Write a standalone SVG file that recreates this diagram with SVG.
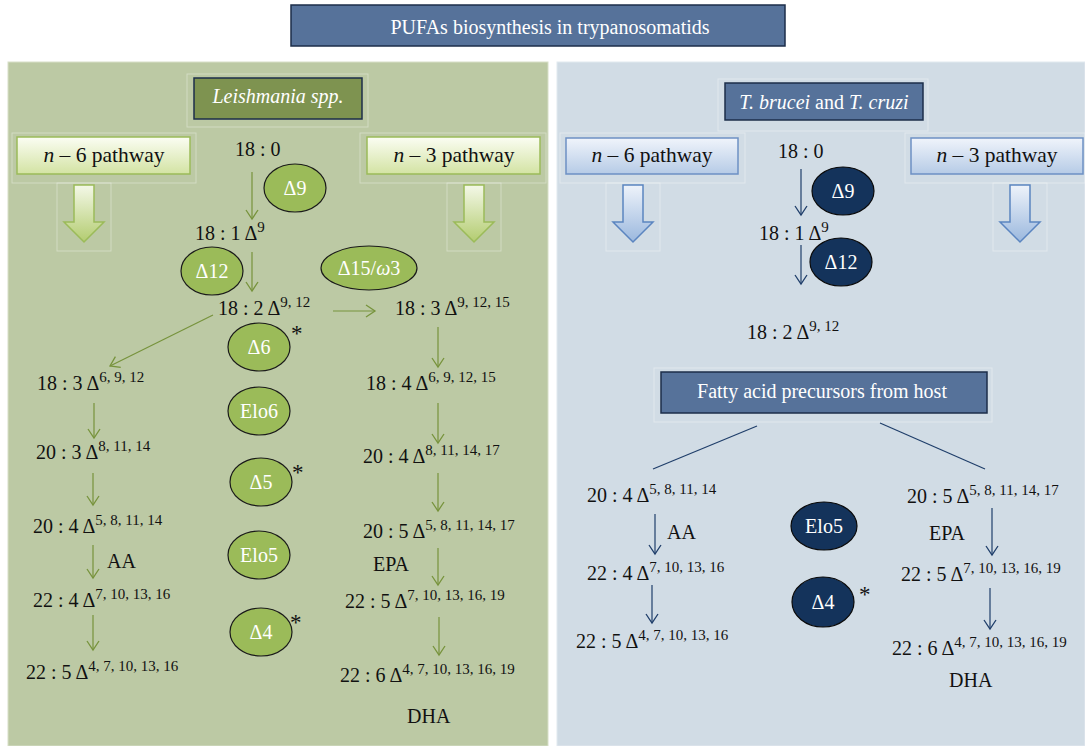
<svg xmlns="http://www.w3.org/2000/svg" width="1085" height="746" viewBox="0 0 1085 746" font-family="'Liberation Serif','Times New Roman',serif">
<defs>
<linearGradient id="gBox" x1="0" y1="0" x2="0" y2="1"><stop offset="0" stop-color="#fbfdf3"/><stop offset="1" stop-color="#d3e3a3"/></linearGradient>
<linearGradient id="gArr" x1="0" y1="0" x2="0" y2="1"><stop offset="0" stop-color="#f4f8e8"/><stop offset="1" stop-color="#b3cc70"/></linearGradient>
<linearGradient id="bBox" x1="0" y1="0" x2="0" y2="1"><stop offset="0" stop-color="#f0f4fb"/><stop offset="1" stop-color="#b6cbe6"/></linearGradient>
<linearGradient id="bArr" x1="0" y1="0" x2="0" y2="1"><stop offset="0" stop-color="#eef3fa"/><stop offset="1" stop-color="#9bb8de"/></linearGradient>
<marker id="mg" viewBox="-10 -7 12 14" markerWidth="12" markerHeight="14" refX="0" refY="0" orient="auto" markerUnits="userSpaceOnUse"><path d="M-9,-6 L0,0 L-9,6" fill="none" stroke="#77933c" stroke-width="1.3"/></marker>
<marker id="mb" viewBox="-10 -7 12 14" markerWidth="12" markerHeight="14" refX="0" refY="0" orient="auto" markerUnits="userSpaceOnUse"><path d="M-9,-6 L0,0 L-9,6" fill="none" stroke="#1f3e6a" stroke-width="1.3"/></marker>
</defs>
<style>
text{font-family:"Liberation Serif","Times New Roman",serif;font-size:20px;fill:#111}
.sup{font-size:15px}
.pw{font-size:21.5px}
.w{fill:#fff}
.hd{fill:#56729a;stroke:#1c2e4a;stroke-width:1.5}
.glow{fill:none;stroke:#ffffff;stroke-opacity:0.35;stroke-width:1}
.gbox{fill:url(#gBox);stroke:#9bbb59;stroke-width:1.5}
.garr{fill:url(#gArr);stroke:#9bbb59;stroke-width:1.5}
.bbox{fill:url(#bBox);stroke:#6d90c4;stroke-width:1.5}
.barr{fill:url(#bArr);stroke:#5b85c0;stroke-width:1.5}
.ge{fill:#9bbb59;stroke:#1a1a1a;stroke-width:1.2}
.be{fill:#14335b;stroke:#0a0a0a;stroke-width:1.2}
.gl{stroke:#77933c;stroke-width:1.2;fill:none}
.bl{stroke:#1f3e6a;stroke-width:1.2;fill:none}
.c{text-anchor:middle}
.ast{font-size:23px}
</style>

<rect x="8" y="62" width="540" height="684" fill="#bcc9a4" stroke="#d7dfc8" stroke-width="1"/>
<rect x="557" y="62" width="528" height="684" fill="#d1dce5" stroke="#e2e9ef" stroke-width="1"/>

<g id="title"><rect class="hd" x="291" y="5" width="494" height="41"/><text class="w c" x="550" y="34">PUFAs biosynthesis in trypanosomatids</text></g>

<g id="leish"><rect class="glow" x="187" y="74" width="181" height="53"/><rect x="194" y="78" width="168" height="41" fill="#7e9350" stroke="#1c2e4a" stroke-width="1.5"/><text class="w c" x="278" y="103" font-style="italic">Leishmania spp.</text></g>

<g id="g-n6"><rect class="glow" x="12" y="133" width="184" height="50"/><rect class="glow" x="57" y="183" width="54" height="68"/><rect class="gbox" x="17" y="137" width="173" height="37"/><text class="c pw" x="104" y="162"><tspan font-style="italic">n</tspan> – 6 pathway</text>
<path class="garr" d="M74,185 H94 V222 H104 L84,242 L64,222 H74 Z"/></g>
<g id="g-n3"><rect class="glow" x="360" y="133" width="186" height="50"/><rect class="glow" x="447" y="183" width="54" height="68"/><rect class="gbox" x="367" y="137" width="173" height="37"/><text class="c pw" x="454" y="162"><tspan font-style="italic">n</tspan> – 3 pathway</text>
<path class="garr" d="M464,185 H484 V222 H494 L474,242 L454,222 H464 Z"/></g>

<g id="g-enz">
<ellipse class="ge" cx="295" cy="188" rx="31" ry="24"/><text class="w c" x="295" y="195">Δ9</text>
<ellipse class="ge" cx="212" cy="271" rx="31" ry="24"/><text class="w c" x="212" y="278">Δ12</text>
<ellipse class="ge" cx="369" cy="268" rx="48" ry="22"/><text class="w c" x="369" y="275">Δ15/<tspan font-style="italic">ω</tspan>3</text>
<ellipse class="ge" cx="259" cy="347" rx="31" ry="24"/><text class="w c" x="259" y="354">Δ6</text><text class="ast" x="291" y="341">*</text>
<ellipse class="ge" cx="259" cy="411" rx="31" ry="24"/><text class="w c" x="259" y="418">Elo6</text>
<ellipse class="ge" cx="261" cy="482" rx="31" ry="24"/><text class="w c" x="261" y="489">Δ5</text><text class="ast" x="292" y="480">*</text>
<ellipse class="ge" cx="259" cy="555" rx="31" ry="24"/><text class="w c" x="259" y="562">Elo5</text>
<ellipse class="ge" cx="261" cy="632" rx="31" ry="24"/><text class="w c" x="261" y="639">Δ4</text><text class="ast" x="290" y="630">*</text>
</g>

<g id="g-fa">
<text x="235" y="156">18 : 0</text>
<text x="195" y="240">18 : 1 Δ<tspan class="sup" dy="-8">9</tspan></text>
<text x="218" y="315">18 : 2 Δ<tspan class="sup" dy="-8">9, 12</tspan></text>
<text x="395" y="315">18 : 3 Δ<tspan class="sup" dy="-8">9, 12, 15</tspan></text>
<text x="37" y="390">18 : 3 Δ<tspan class="sup" dy="-8">6, 9, 12</tspan></text>
<text x="366" y="390">18 : 4 Δ<tspan class="sup" dy="-8">6, 9, 12, 15</tspan></text>
<text x="36" y="459">20 : 3 Δ<tspan class="sup" dy="-8">8, 11, 14</tspan></text>
<text x="363" y="463">20 : 4 Δ<tspan class="sup" dy="-8">8, 11, 14, 17</tspan></text>
<text x="33" y="533">20 : 4 Δ<tspan class="sup" dy="-8">5, 8, 11, 14</tspan></text>
<text x="363" y="538">20 : 5 Δ<tspan class="sup" dy="-8">5, 8, 11, 14, 17</tspan></text>
<text x="107" y="568">AA</text>
<text x="373" y="571">EPA</text>
<text x="33" y="607">22 : 4 Δ<tspan class="sup" dy="-8">7, 10, 13, 16</tspan></text>
<text x="345" y="608">22 : 5 Δ<tspan class="sup" dy="-8">7, 10, 13, 16, 19</tspan></text>
<text x="26" y="679">22 : 5 Δ<tspan class="sup" dy="-8">4, 7, 10, 13, 16</tspan></text>
<text x="340" y="682">22 : 6 Δ<tspan class="sup" dy="-8">4, 7, 10, 13, 16, 19</tspan></text>
<text x="407" y="723">DHA</text>
</g>

<g id="tryp"><rect class="glow" x="718" y="79" width="210" height="52"/><rect class="hd" x="725" y="83" width="198" height="37"/><text class="w c" x="824" y="109"><tspan font-style="italic">T. brucei</tspan> and <tspan font-style="italic">T. cruzi</tspan></text></g>

<g id="b-n6"><rect class="glow" x="560" y="133" width="185" height="50"/><rect class="glow" x="606" y="183" width="54" height="68"/><rect class="bbox" x="566" y="138" width="172" height="36"/><text class="c pw" x="652" y="162"><tspan font-style="italic">n</tspan> – 6 pathway</text>
<path class="barr" d="M623,185 H643 V222 H653 L633,242 L613,222 H623 Z"/></g>
<g id="b-n3"><rect class="glow" x="905" y="133" width="180" height="50"/><rect class="glow" x="993" y="183" width="54" height="68"/><rect class="bbox" x="911" y="138" width="172" height="36"/><text class="c pw" x="997" y="162"><tspan font-style="italic">n</tspan> – 3 pathway</text>
<path class="barr" d="M1010,185 H1030 V222 H1040 L1020,242 L1000,222 H1010 Z"/></g>

<g id="host"><rect class="glow" x="654" y="368" width="338" height="54"/><rect class="hd" x="661" y="372" width="326" height="41"/><text class="w c" x="822" y="398" font-size="21">Fatty acid precursors from host</text></g>

<g id="b-enz">
<ellipse class="be" cx="843" cy="191" rx="31" ry="24"/><text class="w c" x="843" y="198">Δ9</text>
<ellipse class="be" cx="841" cy="262" rx="31" ry="24"/><text class="w c" x="841" y="269">Δ12</text>
<ellipse class="be" cx="824" cy="526" rx="33" ry="24"/><text class="w c" x="824" y="533">Elo5</text>
<ellipse class="be" cx="823" cy="602" rx="31" ry="25"/><text class="w c" x="823" y="609">Δ4</text><text class="ast" x="859" y="602">*</text>
</g>

<g id="b-fa">
<text x="778" y="158">18 : 0</text>
<text x="759" y="240">18 : 1 Δ<tspan class="sup" dy="-8">9</tspan></text>
<text x="747" y="339">18 : 2 Δ<tspan class="sup" dy="-8">9, 12</tspan></text>
<text x="587" y="502">20 : 4 Δ<tspan class="sup" dy="-8">5, 8, 11, 14</tspan></text>
<text x="667" y="539">AA</text>
<text x="587" y="580">22 : 4 Δ<tspan class="sup" dy="-8">7, 10, 13, 16</tspan></text>
<text x="576" y="648">22 : 5 Δ<tspan class="sup" dy="-8">4, 7, 10, 13, 16</tspan></text>
<text x="907" y="503">20 : 5 Δ<tspan class="sup" dy="-8">5, 8, 11, 14, 17</tspan></text>
<text x="929" y="540">EPA</text>
<text x="901" y="581">22 : 5 Δ<tspan class="sup" dy="-8">7, 10, 13, 16, 19</tspan></text>
<text x="892" y="655">22 : 6 Δ<tspan class="sup" dy="-8">4, 7, 10, 13, 16, 19</tspan></text>
<text x="949" y="687">DHA</text>
</g>

<g id="connectors">
<path class="gl" marker-end="url(#mg)" d="M252,172 V219"/>
<path class="gl" marker-end="url(#mg)" d="M252,252 V291"/>
<path class="gl" marker-end="url(#mg)" d="M333,311 H375"/>
<path class="gl" marker-end="url(#mg)" d="M213,315 L110,366"/>
<path class="gl" marker-end="url(#mg)" d="M438,327 V367"/>
<path class="gl" marker-end="url(#mg)" d="M94,403 V438"/>
<path class="gl" marker-end="url(#mg)" d="M438,403 V443"/>
<path class="gl" marker-end="url(#mg)" d="M93,473 V505"/>
<path class="gl" marker-end="url(#mg)" d="M438,473 V511"/>
<path class="gl" marker-end="url(#mg)" d="M93,545 V578"/>
<path class="gl" marker-end="url(#mg)" d="M438,548 V585"/>
<path class="gl" marker-end="url(#mg)" d="M93,615 V650"/>
<path class="gl" marker-end="url(#mg)" d="M439,617 V655"/>
<path class="bl" marker-end="url(#mb)" d="M801,169 V215"/>
<path class="bl" marker-end="url(#mb)" d="M801,245 V284"/>
<path class="bl" marker-end="url(#mb)" d="M655,514 V554"/>
<path class="bl" marker-end="url(#mb)" d="M652,585 V623"/>
<path class="bl" marker-end="url(#mb)" d="M992,508 V555"/>
<path class="bl" marker-end="url(#mb)" d="M990,588 V629"/>
<path class="bl" d="M757,426 L653,469"/>
<path class="bl" d="M880,423 L985,469"/>
</g>
</svg>
